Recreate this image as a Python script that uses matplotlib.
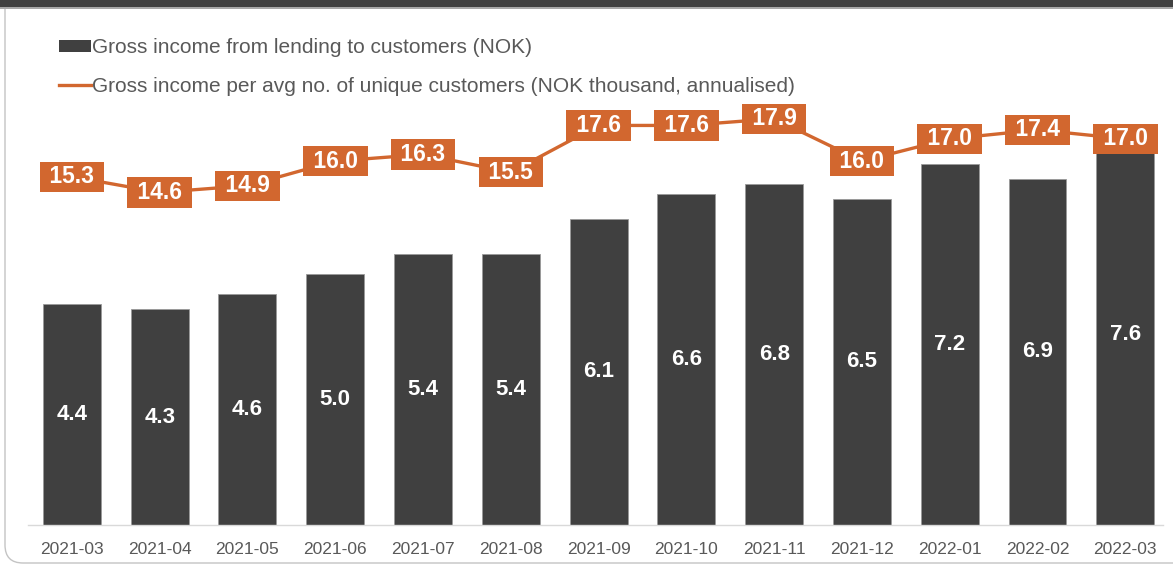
import matplotlib.pyplot as plt
import numpy as np
from matplotlib.patches import FancyBboxPatch, Rectangle
from matplotlib.lines import Line2D
from matplotlib.transforms import IdentityTransform

plt.rcParams['font.family'] = ['Liberation Sans', 'DejaVu Sans']

months = ['2021-03', '2021-04', '2021-05', '2021-06', '2021-07', '2021-08', '2021-09',
          '2021-10', '2021-11', '2021-12', '2022-01', '2022-02', '2022-03']
gross_income = [4.4, 4.3, 4.6, 5.0, 5.4, 5.4, 6.1, 6.6, 6.8, 6.5, 7.2, 6.9, 7.6]
income_per_customer = [15.3, 14.6, 14.9, 16.0, 16.3, 15.5, 17.6, 17.6, 17.9, 16.0, 17.0, 17.4, 17.0]

bar_label = 'Gross income from lending to customers (NOK)'
line_label = 'Gross income per avg no. of unique customers (NOK thousand, annualised)'

dark = '#404040'
orange = '#D2672F'
grey_text = '#595959'

W, H = 1173, 565
fig = plt.figure(figsize=(W / 100, H / 100), dpi=100)

# panel frame and header strip
fig.add_artist(FancyBboxPatch((5, 2), 1300, 600, boxstyle='round,pad=0,rounding_size=18',
                              facecolor='white', edgecolor='#c4c4c4', linewidth=1,
                              transform=IdentityTransform(), zorder=0))
fig.add_artist(Rectangle((0, H - 7), W, 7, facecolor=dark, edgecolor='none',
                         transform=IdentityTransform(), zorder=1))
fig.add_artist(Rectangle((0, H - 8.5), W, 1.5, facecolor='#a8a8a8', edgecolor='none',
                         transform=IdentityTransform(), zorder=1))

ax_left, ax_right, ax_bottom, ax_top = 28, 1163, 525, 100
ax = fig.add_axes([ax_left / W, (H - ax_bottom) / H, (ax_right - ax_left) / W,
                   (ax_bottom - ax_top) / H])
ax.patch.set_visible(False)

x = np.arange(len(months))
bars = ax.bar(x, gross_income, width=0.66, color=dark, edgecolor='#9a9a9a', linewidth=0.6)
for xi, v in zip(x, gross_income):
    ax.text(xi, v / 2, f'{v:.1f}', ha='center', va='center', color='white',
            fontsize=16, fontweight='bold')

ax.set_xlim(-0.5, 12.43)
ax.set_ylim(0, 8.47)
ax.set_yticks([])
ax.set_xticks(x)
ax.set_xticklabels(months, fontsize=12.5, color=grey_text)
ax.tick_params(axis='x', length=0, pad=12)
for s in ['top', 'right', 'left']:
    ax.spines[s].set_visible(False)
ax.spines['bottom'].set_color('#d9d9d9')
ax.spines['bottom'].set_linewidth(1)

ax2 = ax.twinx()
ax2.plot(x, income_per_customer, color=orange, linewidth=2.4, zorder=2)
for xi, v in zip(x, income_per_customer):
    ax2.text(xi, v, f' {v:.1f} ', ha='center', va='center', color='white',
             fontsize=16.5, fontweight='bold', zorder=3,
             bbox=dict(boxstyle='square,pad=0.16', facecolor=orange, edgecolor='none'))
ax2.set_ylim(-0.31, 18.74)
ax2.set_yticks([])
for s in ax2.spines.values():
    s.set_visible(False)

handles = [Rectangle((0, 0), 1, 1, facecolor=dark, edgecolor='none'),
           Line2D([0], [0], color=orange, linewidth=2.4)]
fig.legend(handles, [bar_label, line_label], loc='upper left',
           bbox_to_anchor=(49 / W, 1 - 28 / H), frameon=False, fontsize=15,
           labelcolor=grey_text, handlelength=1.5, handleheight=0.52,
           handletextpad=0.05, labelspacing=0.95, borderpad=0)

fig.savefig('out.png', dpi=100)
